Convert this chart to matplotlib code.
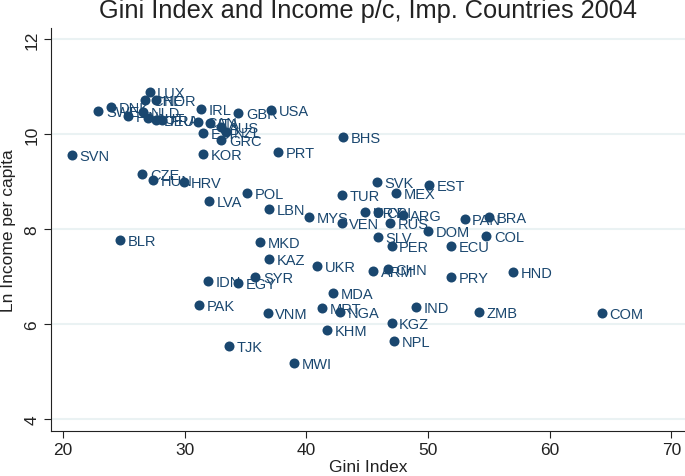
"""Scatter: Gini index vs log income per capita, 2004."""
import matplotlib
matplotlib.use('Agg')
import matplotlib.pyplot as plt

countries = ['SWE', 'DNK', 'FIN', 'CHE', 'NOR', 'LUX', 'NLD', 'AUT', 'DEU', 'FRA',
             'IRL', 'GBR', 'USA', 'CAN', 'ITA', 'AUS', 'ESP', 'NZL', 'GRC',
             'SVN', 'KOR', 'PRT', 'BHS', 'CZE', 'HUN', 'HRV', 'POL', 'LVA', 'LBN',
             'MYS', 'TUR', 'VEN', 'SVK', 'EST', 'MEX', 'URY', 'CRI', 'ARG', 'RUS',
             'DOM', 'SLV', 'PER', 'ECU', 'PAN', 'BRA', 'COL', 'HND', 'PRY',
             'MKD', 'KAZ', 'UKR', 'ARM', 'CHN', 'SYR', 'IDN', 'EGY', 'PAK', 'VNM',
             'MDA', 'MRT', 'NGA', 'KHM', 'IND', 'KGZ', 'NPL', 'ZMB', 'COM', 'TJK',
             'MWI', 'BLR']
gini = [22.9, 23.9, 25.3, 26.7, 27.6, 27.1, 26.6, 27.0, 27.6, 28.1,
        31.3, 34.4, 37.1, 31.1, 32.1, 33.0, 31.5, 33.4, 33.0,
        20.7, 31.5, 37.7, 43.0, 26.5, 27.4, 29.9, 35.1, 32.0, 36.9,
        40.2, 42.9, 42.9, 45.8, 50.1, 47.4, 44.8, 45.9, 47.9, 46.9,
        50.0, 45.9, 47.0, 51.9, 53.0, 55.0, 54.8, 57.0, 51.9,
        36.2, 36.9, 40.9, 45.5, 46.7, 35.8, 31.9, 34.4, 31.2, 36.8,
        42.2, 41.3, 42.8, 41.7, 49.0, 47.0, 47.2, 54.2, 64.3, 33.6,
        39.0, 24.7]
ln_income = [10.48, 10.57, 10.38, 10.72, 10.72, 10.88, 10.46, 10.34, 10.29, 10.29,
             10.53, 10.44, 10.51, 10.25, 10.23, 10.15, 10.02, 10.04, 9.87,
             9.56, 9.58, 9.62, 9.94, 9.16, 9.03, 8.99, 8.76, 8.59, 8.42,
             8.25, 8.72, 8.13, 8.99, 8.93, 8.76, 8.36, 8.36, 8.29, 8.13,
             7.96, 7.83, 7.64, 7.64, 8.21, 8.25, 7.85, 7.09, 6.99,
             7.73, 7.37, 7.22, 7.12, 7.16, 6.99, 6.91, 6.86, 6.40, 6.23,
             6.65, 6.34, 6.25, 5.87, 6.36, 6.02, 5.64, 6.25, 6.23, 5.54,
             5.18, 7.77]

navy = '#1a476f'
narrow = ['Liberation Sans Narrow', 'Liberation Sans', 'DejaVu Sans']

fig = plt.figure(figsize=(6.85, 4.77), dpi=100)
ax = fig.add_axes([0.0745, 0.094, 0.925, 0.845])

ax.scatter(gini, ln_income, s=52, color=navy, zorder=3, linewidths=0)
for c, x, y in zip(countries, gini, ln_income):
    ax.annotate(c, (x, y), xytext=(5.5, -0.5), textcoords='offset points',
                ha='left', va='center', fontsize=10.5, color=navy,
                family=['Liberation Sans', 'DejaVu Sans'], zorder=4)

ax.set_xlim(19.0, 71.1)
ax.set_ylim(3.75, 12.23)
ax.set_xticks([20, 30, 40, 50, 60, 70])
ax.set_yticks([4, 6, 8, 10, 12])
ax.grid(axis='y', color='#eaf2f3', linewidth=1.5, zorder=0)
ax.set_axisbelow(True)

for s in ['top', 'right']:
    ax.spines[s].set_visible(False)
ax.spines['left'].set_color('#222222')
ax.spines['bottom'].set_color('#222222')
ax.tick_params(length=5, color='#222222', labelsize=12.5, labelcolor='#222222')
ax.tick_params(axis='x', pad=2.5)
for lab in ax.get_xticklabels() + ax.get_yticklabels():
    lab.set_family(narrow)
for lab in ax.get_yticklabels():
    lab.set_rotation(90)
    lab.set_va('center')

ax.set_xlabel('Gini Index', fontsize=12.5, family=narrow, color='#222222', labelpad=2)
ax.set_ylabel('Ln Income per capita', fontsize=12.5, family=narrow, color='#222222', labelpad=6)
ax.set_title('Gini Index and Income p/c, Imp. Countries 2004', fontsize=18.3,
             family=narrow, color='#222222', pad=8)

fig.savefig('out.png', dpi=100)
